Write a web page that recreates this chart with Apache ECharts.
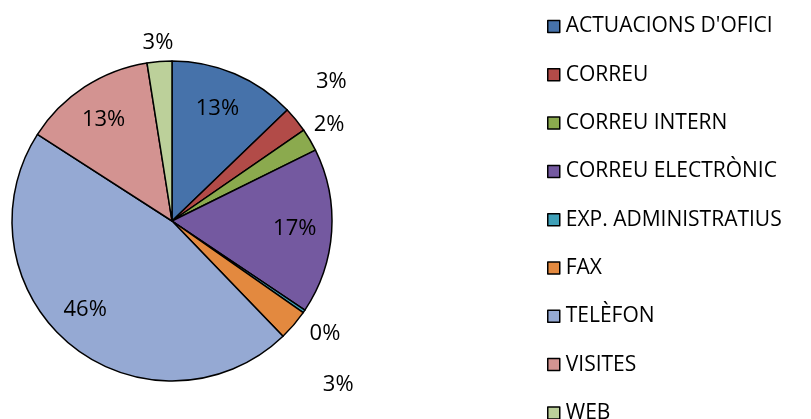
<!DOCTYPE html>
<html>
<head>
<meta charset="utf-8">
<script src="https://cdn.jsdelivr.net/npm/echarts@6/dist/echarts.min.js"></script>
<style>
  html, body { margin: 0; padding: 0; background: #fff; }
  #chart { width: 811px; height: 419px; }
</style>
</head>
<body>
<div id="chart"></div>
<script type="text/javascript">
    var categories = ['ACTUACIONS D\'OFICI', 'CORREU', 'CORREU INTERN', 'CORREU ELECTRÒNIC',
                      'EXP. ADMINISTRATIUS', 'FAX', 'TELÈFON', 'VISITES', 'WEB'];
    var values = [12.8, 2.6, 2.3, 16.7, 0.3, 3.1, 46.3, 13.4, 2.5];
    var colors = ['#4672AA', '#B24B48', '#8BAA4E', '#7459A0', '#3FA0B8',
                  '#E3893F', '#95A9D3', '#D39391', '#BCD09A'];

    // where each percentage sits (px from centre) and a small angle nudge (deg)
    var labelRadius = [121, 212, 184, 123, 190, 233, 124, 122, 179];
    var labelTurn = [-1, -2, -1, 0, 2, 4, 5, -1, 0];

    var cx = 172, cy = 221, r = 160;
    var total = values.reduce(function (a, b) { return a + b; }, 0);

    function midAngle(i) {
        var before = 0;
        for (var k = 0; k < i; k++) before += values[k];
        return (before + values[i] / 2) / total * 360 + labelTurn[i];
    }

    var option = {
        animation: false,
        color: colors,
        legend: {
            orient: 'vertical',
            left: 542,
            top: 11,
            height: 410,
            itemWidth: 12,
            itemHeight: 12,
            itemGap: 27.3,
            icon: 'rect',
            itemStyle: { borderColor: '#000', borderWidth: 1.5 },
            textStyle: { fontFamily: 'Open Sans', fontSize: 21, lineHeight: 21, color: '#000', padding: [0, 0, 0, 1] },
            data: categories
        },
        series: [{
            type: 'pie',
            center: [cx, cy],
            radius: [0, r],
            startAngle: 90,
            clockwise: true,
            avoidLabelOverlap: false,
            itemStyle: { borderColor: '#000', borderWidth: 1.5 },
            label: {
                show: true,
                position: 'inside',
                fontFamily: 'Open Sans',
                fontSize: 22,
                color: '#000',
                formatter: function (p) { return Math.round(p.percent) + '%'; }
            },
            labelLine: { show: false },
            labelLayout: function (p) {
                var a = midAngle(p.dataIndex) * Math.PI / 180;
                var lr = labelRadius[p.dataIndex];
                return {
                    x: cx + lr * Math.sin(a),
                    y: cy - lr * Math.cos(a),
                    align: 'center',
                    verticalAlign: 'middle'
                };
            },
            data: categories.map(function (c, i) { return { name: c, value: values[i] }; })
        }]
    };

    var chart = echarts.init(document.getElementById('chart'));
    chart.setOption(option);
</script>
</body>
</html>
